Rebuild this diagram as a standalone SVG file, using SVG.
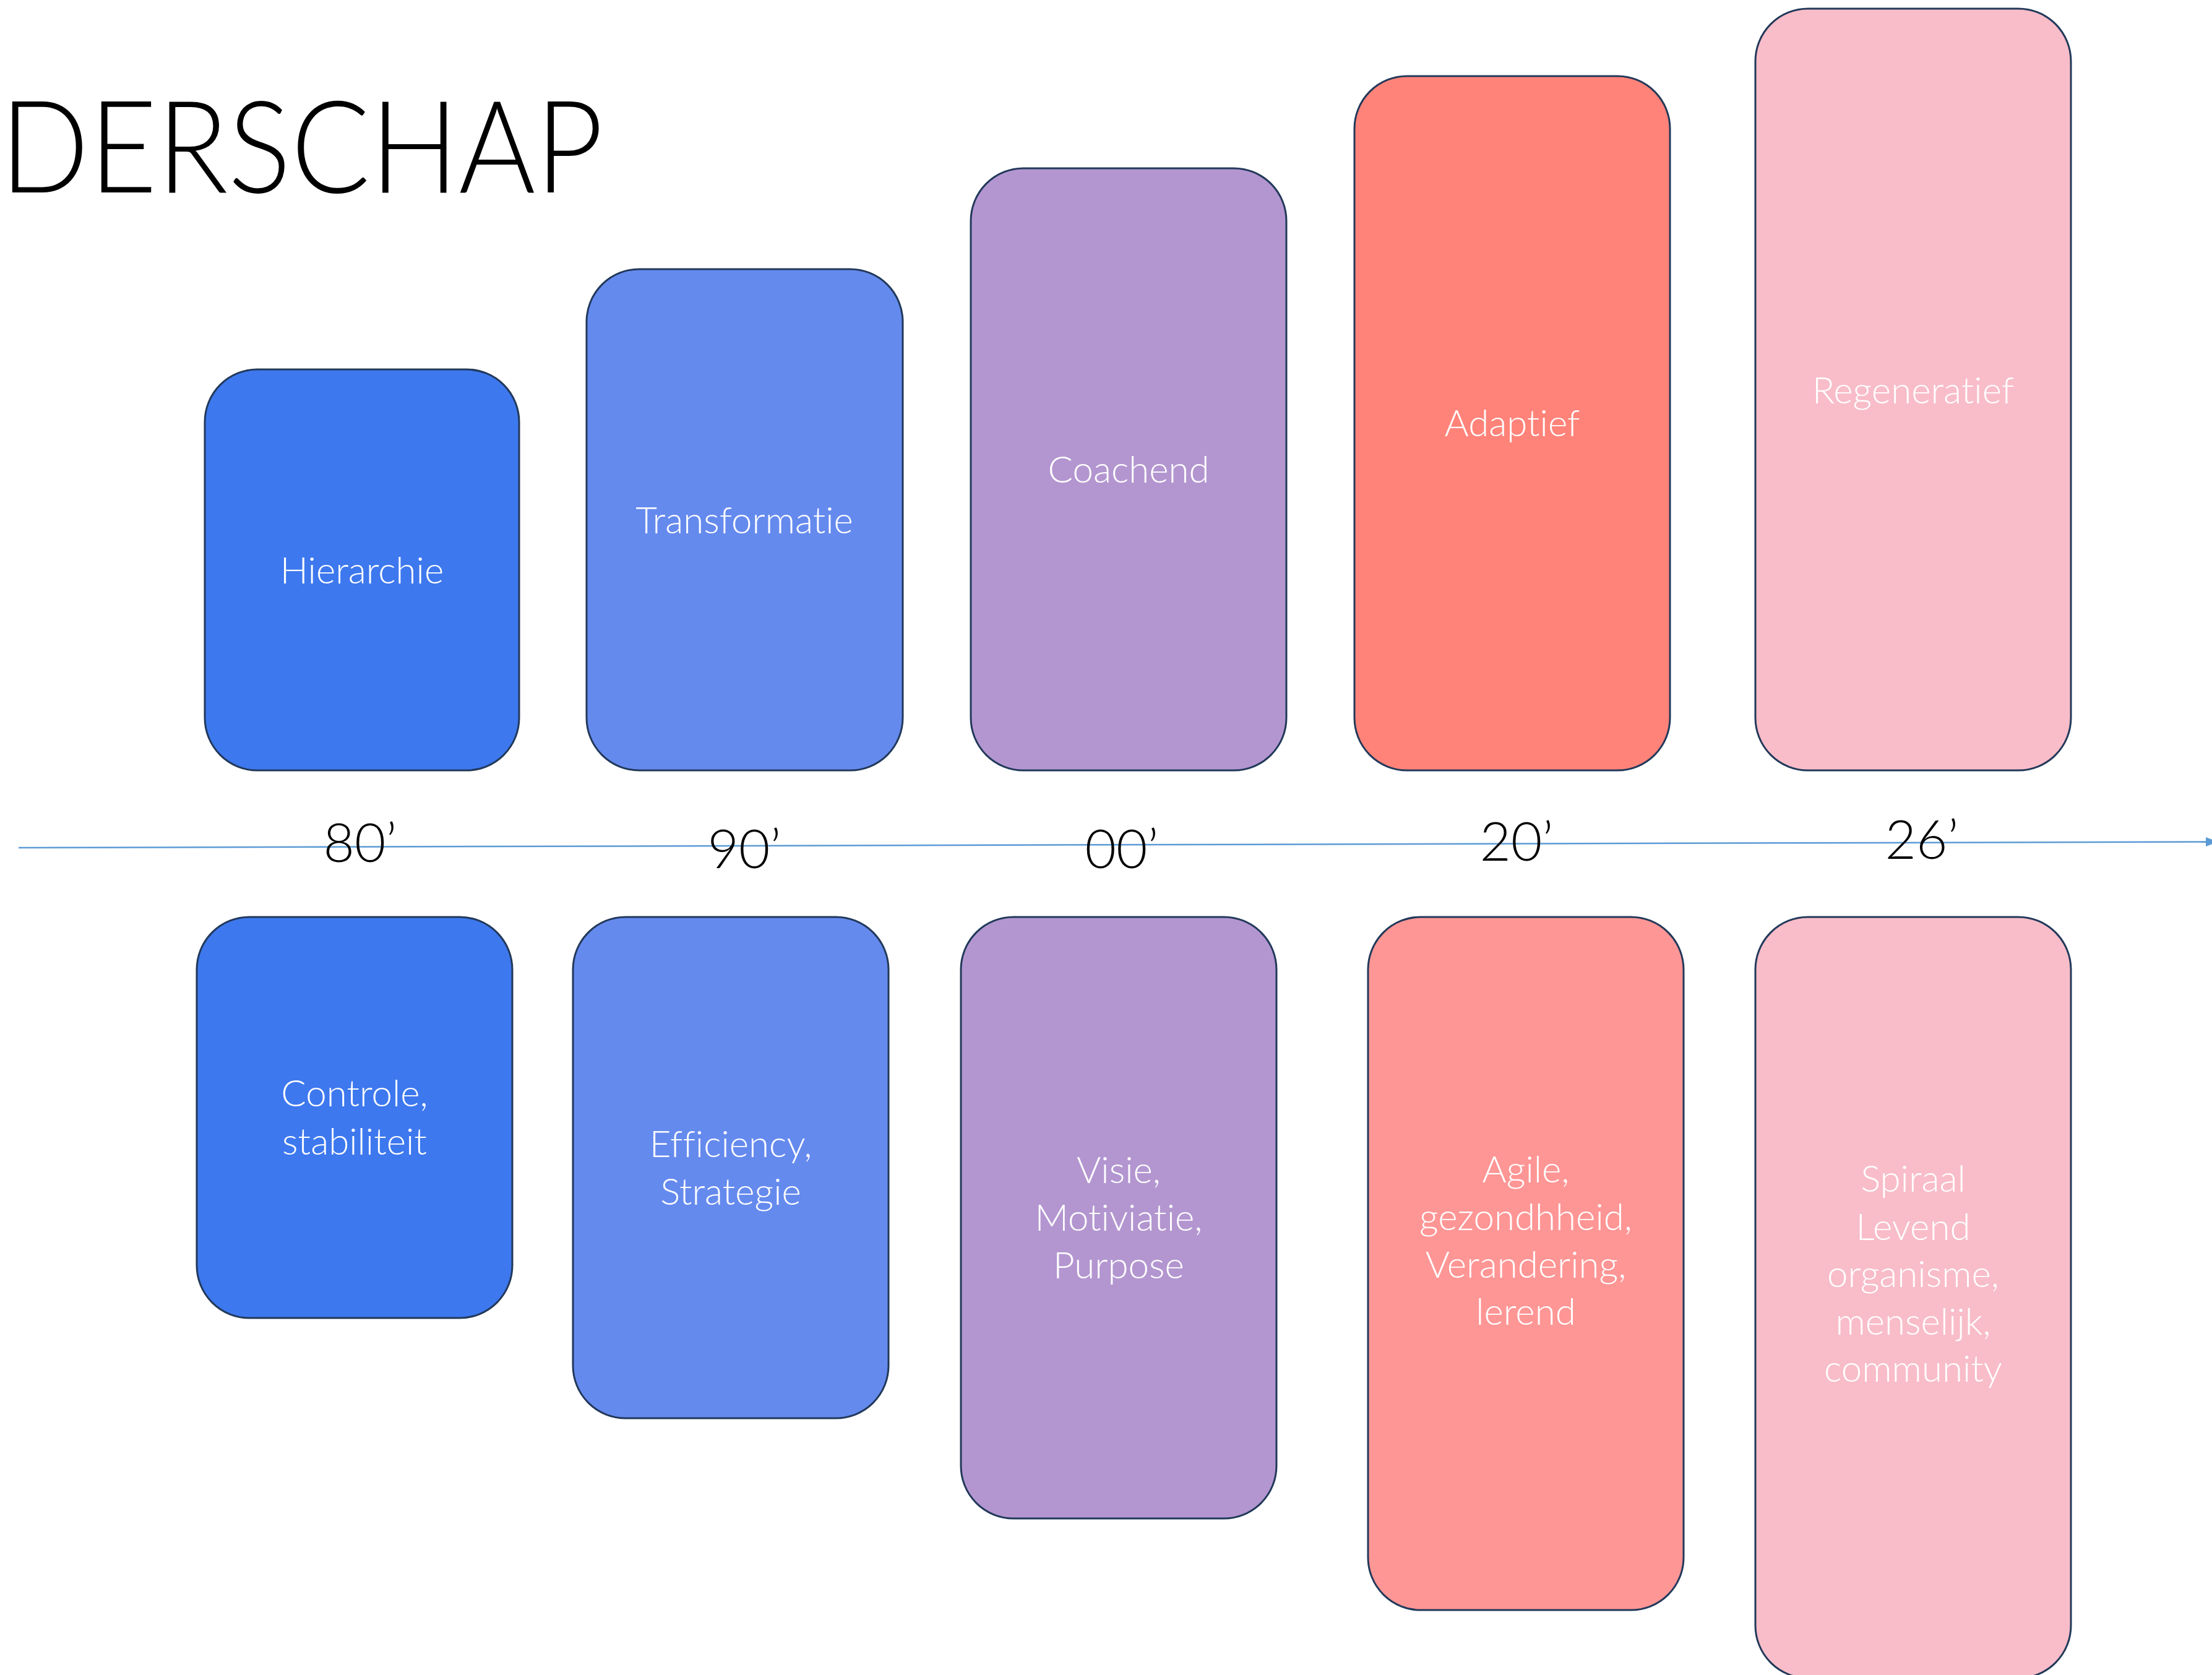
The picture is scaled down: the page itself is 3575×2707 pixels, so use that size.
<svg xmlns="http://www.w3.org/2000/svg" width="3575" height="2707" viewBox="0 0 3575 2707">
<defs>
<style>
text{font-variant-ligatures:none;font-feature-settings:"liga" 0,"clig" 0}
.box{stroke:#22395A;stroke-width:3}
.lbl{font-family:"Lato","Open Sans",sans-serif;font-weight:300;font-size:60px;fill:#FFFFFF;text-anchor:middle}
.yr{font-family:"Lato","Open Sans",sans-serif;font-weight:300;font-size:87px;fill:#000000;text-anchor:middle}
.title{font-family:"Lato","Open Sans",sans-serif;font-weight:300;font-size:208px;fill:#000000}
.c1{fill:#3D78EE}.c2{fill:#658AEE}.c3{fill:#B396D0}.c4{fill:#FF8379}.c5{fill:#FE9695}.c6{fill:#F8BDC9}
</style>
<marker id="arr" markerWidth="8" markerHeight="6" refX="0" refY="3" orient="auto" markerUnits="strokeWidth">
<path d="M0,0 L8,3 L0,6 Z" fill="#5B9BD5"/>
</marker>
</defs>
<rect width="3575" height="2707" fill="#FFFFFF"/>
<text class="title" x="0" y="311" textLength="975" lengthAdjust="spacingAndGlyphs">DERSCHAP</text>

<g id="connectors">
<line x1="30" y1="1370.1" x2="3565" y2="1360.5" stroke="#5B9BD5" stroke-width="2.5" marker-end="url(#arr)"/>
</g>

<g id="year-80"><text class="yr" x="582" y="1393">80’</text></g>
<g id="year-90"><text class="yr" x="1203" y="1403">90’</text></g>
<g id="year-00"><text class="yr" x="1813" y="1403">00’</text></g>
<g id="year-20"><text class="yr" x="2451" y="1391">20’</text></g>
<g id="year-26"><text class="yr" x="3106" y="1388">26’</text></g>

<g id="hierarchie"><rect class="box c1" x="331" y="597" width="508" height="648" rx="85" ry="85"/><text class="lbl" x="585" y="943">Hierarchie</text></g>
<g id="transformatie"><rect class="box c2" x="948" y="435" width="511" height="810" rx="85" ry="85"/><text class="lbl" x="1203" y="862">Transformatie</text></g>
<g id="coachend"><rect class="box c3" x="1569" y="272" width="510" height="973" rx="85" ry="85"/><text class="lbl" x="1824" y="780">Coachend</text></g>
<g id="adaptief"><rect class="box c4" x="2189" y="123" width="510" height="1122" rx="85" ry="85"/><text class="lbl" x="2444" y="705">Adaptief</text></g>
<g id="regeneratief"><rect class="box c6" x="2837" y="14" width="510" height="1231" rx="85" ry="85"/><text class="lbl" x="3092" y="652">Regeneratief</text></g>

<g id="controle"><rect class="box c1" x="318" y="1482" width="510" height="648" rx="85" ry="85"/><text class="lbl" x="573" y="1788">Controle,</text><text class="lbl" x="573" y="1866">stabiliteit</text></g>
<g id="efficiency"><rect class="box c2" x="926" y="1482" width="510" height="810" rx="85" ry="85"/><text class="lbl" x="1181" y="1870">Efficiency,</text><text class="lbl" x="1181" y="1947">Strategie</text></g>
<g id="visie"><rect class="box c3" x="1553" y="1482" width="510" height="972" rx="85" ry="85"/><text class="lbl" x="1808" y="1912">Visie,</text><text class="lbl" x="1808" y="1989">Motiviatie,</text><text class="lbl" x="1808" y="2066">Purpose</text></g>
<g id="agile"><rect class="box c5" x="2211" y="1482" width="510" height="1120" rx="85" ry="85"/><text class="lbl" x="2466" y="1911">Agile,</text><text class="lbl" x="2466" y="1988">gezondhheid,</text><text class="lbl" x="2466" y="2065">Verandering,</text><text class="lbl" x="2466" y="2141">lerend</text></g>
<g id="spiraal"><rect class="box c6" x="2837" y="1482" width="510" height="1230" rx="85" ry="85"/><text class="lbl" x="3092" y="1926">Spiraal</text><text class="lbl" x="3092" y="2004">Levend</text><text class="lbl" x="3092" y="2080">organisme,</text><text class="lbl" x="3092" y="2157">menselijk,</text><text class="lbl" x="3092" y="2233">community</text></g>
</svg>
